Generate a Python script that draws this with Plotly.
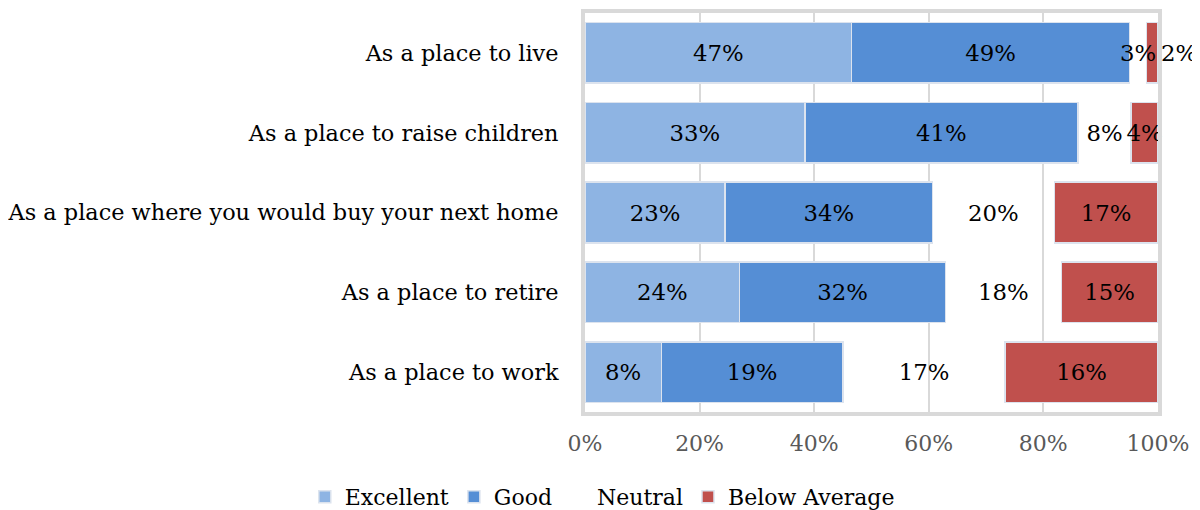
import plotly.graph_objects as go

categories = ["As a place to live", "As a place to raise children",
              "As a place where you would buy your next home",
              "As a place to retire", "As a place to work"]
excellent = [47, 33, 23, 24, 8]
good = [49, 41, 34, 32, 19]
neutral = [3, 8, 20, 18, 17]
below = [2, 4, 17, 15, 16]
tick_vals = [0, 20, 40, 60, 80, 100]
tick_text = ["0%", "20%", "40%", "60%", "80%", "100%"]

FONT = "DejaVu Serif"
FS = 22
LFS = 22.8
series = [
    ("Excellent", excellent, "#8EB4E3"),
    ("Good", good, "#558ED5"),
    ("Neutral", neutral, "rgba(255,255,255,0)"),
    ("Below Average", below, "#C0504D"),
]

fig = go.Figure()
for name, vals, color in series:
    labels = [f"{v}%" for v in vals]
    if name == "Below Average":
        # the tiny first segment's label sits just past the bar end, as in the reference
        positions = ["outside"] + ["inside"] * (len(vals) - 1)
    else:
        positions = "inside"
    if name == "Neutral":
        labels[0] = ""  # drawn as an annotation on top of the next segment below
    fig.add_trace(go.Bar(
        y=categories, x=vals, name=name, orientation="h",
        marker=dict(color=color,
                    line=dict(color="#dce3ee" if name != "Neutral" else "rgba(0,0,0,0)", width=1.5)),
        text=labels, textposition=positions,
        insidetextanchor="middle", textangle=0, constraintext="none",
        textfont=dict(family=FONT, size=LFS, color="black"),
        outsidetextfont=dict(family=FONT, size=LFS, color="black"),
        cliponaxis=False,
    ))

# label of the narrow neutral segment in the first row, centred on that segment (normalised to 100%)
row_total = excellent[0] + good[0] + neutral[0] + below[0]
neutral_mid = (excellent[0] + good[0] + neutral[0] / 2) / row_total * 100
fig.add_annotation(x=neutral_mid, y=categories[0], xref="x", yref="y",
                   text=f"{neutral[0]}%", showarrow=False,
                   font=dict(family=FONT, size=LFS, color="black"))

# page body has an 8px margin, so the figure is sized to fill the rest of the window
fig.update_layout(
    barmode="stack", barnorm="percent", bargap=0.24,
    width=1192, height=502,
    margin=dict(l=577, r=42, t=5, b=98, autoexpand=False),
    paper_bgcolor="white", plot_bgcolor="white",
    font=dict(family=FONT, size=FS, color="black"),
    showlegend=True,
    legend=dict(orientation="h", xref="paper", x=-0.489, xanchor="left",
                yref="paper", y=-0.16, yanchor="top",
                font=dict(family=FONT, size=FS, color="black"),
                traceorder="normal", itemclick=False),
)
fig.update_xaxes(range=[0, 100.02], tickvals=tick_vals, ticktext=tick_text,
                 showgrid=True, gridcolor="#d9d9d9", gridwidth=1.5,
                 showline=True, linecolor="#d9d9d9", linewidth=4, mirror=True,
                 zeroline=False, ticks="", ticklabelstandoff=9, automargin=False,
                 tickfont=dict(family=FONT, size=FS, color="#595959"))
fig.update_yaxes(autorange="reversed", showgrid=False,
                 showline=True, linecolor="#d9d9d9", linewidth=4, mirror=True,
                 ticks="", ticklabelstandoff=18, automargin=False,
                 tickfont=dict(family=FONT, size=22.4, color="black"))

fig.write_html("out.html")
